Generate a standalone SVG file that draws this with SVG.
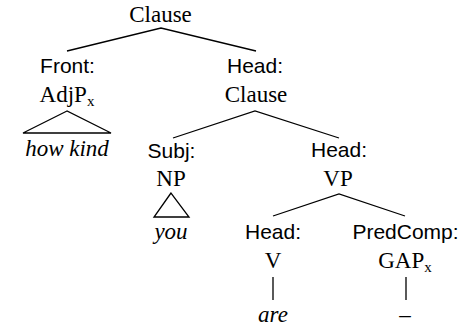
<svg xmlns="http://www.w3.org/2000/svg" width="472" height="329" viewBox="0 0 472 329">
<style>
.cat{font-family:"Liberation Serif","Times New Roman",serif;font-size:23px;fill:#000;text-anchor:middle}
.fn{font-family:"Liberation Sans",Arial,sans-serif;font-size:21px;fill:#000;text-anchor:middle}
.w{font-family:"Liberation Serif","Times New Roman",serif;font-size:23px;font-style:italic;fill:#000;text-anchor:middle}
.sub{font-size:15px}
.ln{stroke:#000;stroke-width:1.3;fill:none;stroke-linejoin:miter}
</style>
<rect width="472" height="329" fill="#fff"/>
<g id="connectors">
<polyline class="ln" points="67,51 161,28 256,51"/>
<polyline class="ln" points="173,138 255,111 339,138"/>
<polyline class="ln" points="273,216 339,194 405,216"/>
<line class="ln" x1="273" y1="277" x2="273" y2="300"/>
<line class="ln" x1="406" y1="277" x2="406" y2="300"/>
</g>
<g id="n-clause"><text class="cat" x="160.5" y="22">Clause</text></g>
<g id="n-front">
<text class="fn" x="67.5" y="73">Front:</text>
<text class="cat" x="67" y="102">AdjP<tspan class="sub" dy="4">x</tspan></text>
<polygon class="ln" points="67,111 23,133 111,133"/>
<text class="w" x="67" y="156">how kind</text>
</g>
<g id="n-headclause">
<text class="fn" x="255" y="73">Head:</text>
<text class="cat" x="256" y="102">Clause</text>
</g>
<g id="n-subj">
<text class="fn" x="171.5" y="158">Subj:</text>
<text class="cat" x="171" y="186">NP</text>
<polygon class="ln" points="171,193 154,217 189,217"/>
<text class="w" x="171" y="239">you</text>
</g>
<g id="n-headvp">
<text class="fn" x="339" y="157">Head:</text>
<text class="cat" x="338" y="186">VP</text>
</g>
<g id="n-headv">
<text class="fn" x="273" y="239">Head:</text>
<text class="cat" x="273" y="268">V</text>
<text class="w" x="273" y="322">are</text>
</g>
<g id="n-predcomp">
<text class="fn" x="405.5" y="239">PredComp:</text>
<text class="cat" x="405" y="268">GAP<tspan class="sub" dy="4">x</tspan></text>
<text class="w" x="405" y="322">–</text>
</g>
</svg>
